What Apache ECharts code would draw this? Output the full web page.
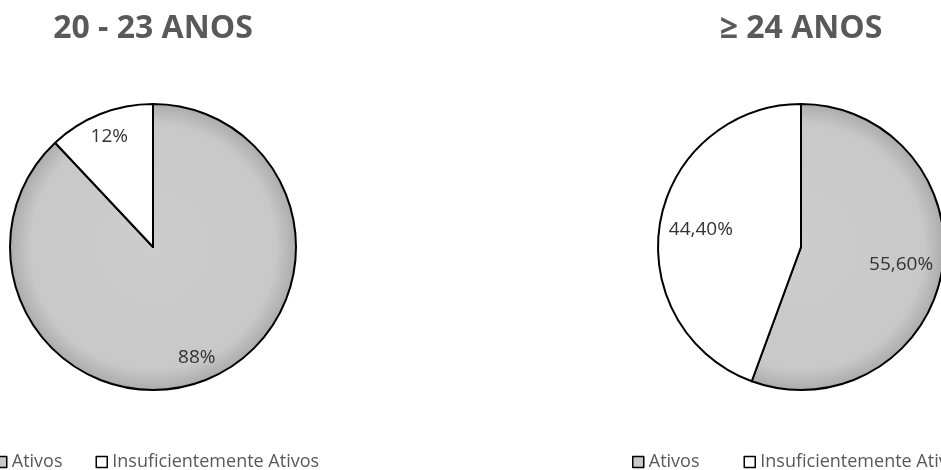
<!DOCTYPE html>
<html>
<head>
<meta charset="utf-8">
<script src="https://cdn.jsdelivr.net/npm/echarts@6/dist/echarts.min.js"></script>
<style>
  html, body { margin: 0; padding: 0; background: #ffffff; }
  #chart { width: 941px; height: 470px; }
</style>
</head>
<body>
<div id="chart"></div>
<script>
// Activity level shares by age group
const categories = ['Ativos', 'Insuficientemente Ativos'];
const titles = ['20 - 23 ANOS', '\u2265 24 ANOS'];
const valuesAge20to23 = [88, 12];
const valuesAge24plus = [55.6, 44.4];

const GRAY = '#c8c8c8';
const WHITE = '#ffffff';
const TEXT = '#595959';
const R = 143;
const pies = [
  { title: titles[0], values: valuesAge20to23, cx: 153, cy: 247, decimals: 0, labelInner: 0.62 },
  { title: titles[1], values: valuesAge24plus, cx: 801, cy: 247, decimals: 2, labelInner: 0.38 }
];

function fmt(v, d) {
  return v.toFixed(d).replace('.', ',') + '%';
}

function grayFill(cx, cy) {
  return {
    type: 'radial', x: cx, y: cy, r: R, global: true,
    colorStops: [
      { offset: 0, color: '#cdcdcd' },
      { offset: 0.86, color: '#c8c8c8' },
      { offset: 1, color: '#acacac' }
    ]
  };
}

const series = [];
pies.forEach(p => {
  // slices
  series.push({
    type: 'pie',
    center: [p.cx, p.cy],
    radius: [0, R],
    startAngle: 90,
    clockwise: true,
    animation: false,
    silent: true,
    label: { show: false },
    labelLine: { show: false },
    data: categories.map((name, i) => ({
      name: name,
      value: p.values[i],
      itemStyle: {
        color: i === 0 ? grayFill(p.cx, p.cy) : WHITE,
        borderColor: '#000000',
        borderWidth: 2
      }
    }))
  });
  // value labels placed toward the rim
  series.push({
    type: 'pie',
    center: [p.cx, p.cy],
    radius: [R * p.labelInner, R],
    startAngle: 90,
    clockwise: true,
    animation: false,
    silent: true,
    itemStyle: { color: 'rgba(0,0,0,0)', borderWidth: 0 },
    label: {
      show: true,
      position: 'inside',
      color: '#333333',
      fontFamily: 'Open Sans',
      fontSize: 19,
      formatter: (prm) => fmt(prm.value, p.decimals)
    },
    labelLine: { show: false },
    data: categories.map((name, i) => ({ name: name, value: p.values[i] }))
  });
});

const legendData = [
  { name: categories[0], itemStyle: { color: GRAY, borderColor: '#000', borderWidth: 1.5 } },
  { name: categories[1], itemStyle: { color: WHITE, borderColor: '#000', borderWidth: 1.5 } }
];
function legendAt(left, gap) {
  return {
    left: left, top: 453,
    width: 900,
    padding: 0,
    orient: 'horizontal',
    icon: 'rect',
    itemWidth: 11, itemHeight: 11,
    itemGap: gap,
    selectedMode: false,
    textStyle: { color: TEXT, fontFamily: 'Open Sans', fontSize: 18 },
    data: legendData
  };
}

const chart = echarts.init(document.getElementById('chart'), null, { renderer: 'canvas' });
chart.setOption({
  backgroundColor: '#ffffff',
  animation: false,
  graphic: pies.map(p => ({
    type: 'text',
    x: p.cx, y: 29,
    style: {
      text: p.title,
      textAlign: 'center',
      textVerticalAlign: 'middle',
      fill: TEXT,
      font: 'bold 32px "Open Sans"'
    }
  })),
  legend: [legendAt(-5, 33), legendAt(632, 44)],
  series: series
});
</script>
</body>
</html>
